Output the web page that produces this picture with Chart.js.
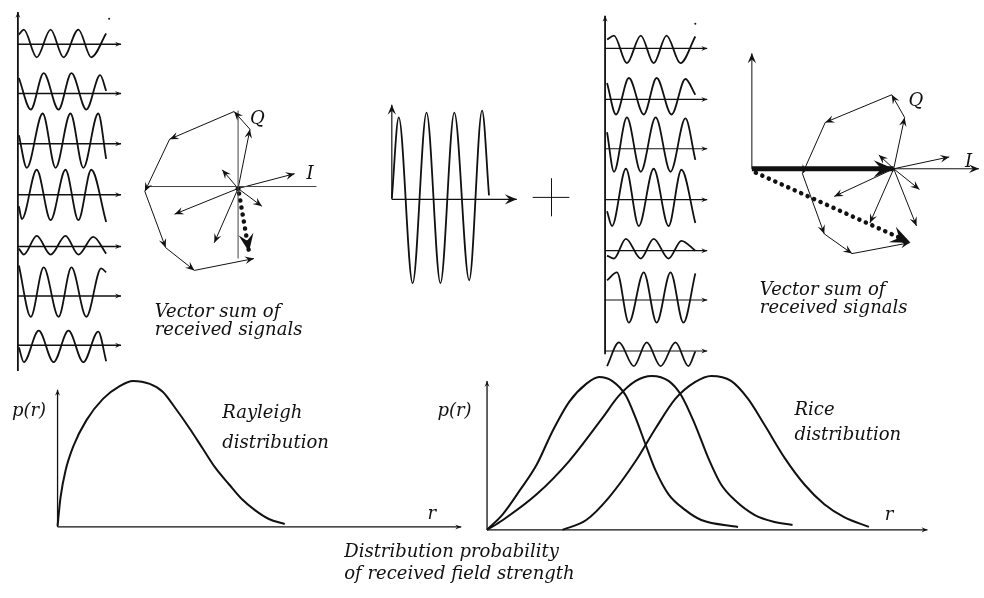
<!DOCTYPE html>
<html>
<head>
<meta charset="utf-8">
<script src="https://cdn.jsdelivr.net/npm/chart.js@4.4.0/dist/chart.umd.min.js"></script>
<style>
  html, body { margin: 0; padding: 0; background: #fff; }
  canvas { display: block; }
</style>
</head>
<body>
<canvas id="diagram" width="984" height="598"></canvas>
<script>
// all values, in picture pixels (x right, y down)

// left stack of received signals: start, peaks/troughs, end of each wave
const leftAxisY = [40.7, 90.7, 141.7, 193.3, 245.7, 296, 346];
const leftWaveX = [
  [15, 20, 33, 47, 60, 75, 88, 103],
  [15, 27, 40, 55, 68, 83, 97, 103],
  [15, 23, 39, 52, 67, 80, 95, 103],
  [15, 18, 33, 47, 62, 75, 88, 103],
  [15, 20, 33, 47, 62, 75, 90, 103],
  [15, 27, 40, 55, 68, 83, 98, 103],
  [15, 20, 35, 50, 65, 80, 95, 103]
];
const leftWaveY = [
  [31, 26, 54, 26, 54, 26, 54, 30],
  [75, 107, 70, 107, 70, 107, 72, 88],
  [133, 166, 111, 166, 111, 166, 111, 157],
  [205, 218, 168, 219, 168, 219, 168, 221],
  [248, 254, 235, 254, 235, 254, 236, 253],
  [265, 317, 267, 317, 267, 317, 268, 272],
  [348, 363, 331, 363, 331, 363, 332, 362]
];

// right stack
const rightAxisY = [45, 96.7, 146.7, 198.3, 250, 300, 351.7];
const rightWaveX = [
  [608, 615, 628, 642, 655, 668, 682, 697],
  [608, 617, 630, 645, 658, 673, 687, 697],
  [608, 615, 628, 642, 657, 672, 687, 697],
  [608, 613, 627, 640, 655, 670, 683, 697],
  [608, 615, 627, 642, 655, 670, 683, 697],
  [608, 618, 630, 645, 658, 672, 685, 697],
  [608, 620, 635, 648, 662, 677, 690, 697]
];
const rightWaveY = [
  [36, 32, 60, 32, 60, 32, 60, 33],
  [80, 112, 75, 112, 75, 112, 76, 92],
  [130, 170, 115, 170, 115, 170, 116, 158],
  [210, 225, 167, 225, 167, 225, 168, 222],
  [255, 258, 238, 258, 238, 258, 240, 250],
  [280, 272, 323, 272, 323, 272, 323, 273],
  [367, 343, 367, 343, 367, 343, 367, 352]
];

// dominant (line of sight) signal in the middle
const losWaveX = [391, 398, 412, 426, 440, 454, 469, 482, 489];
const losWaveY = [197, 115, 283, 110, 283, 110, 280, 108, 194];

// phasor diagrams
const leftOrigin = [236, 187];
const leftChain = [[236, 187], [248, 127], [232, 109], [167, 137], [142, 190], [163, 247], [192, 270], [252, 258]];
const leftSpokes = [[293, 172], [220, 168], [172, 213], [212, 242], [260, 205]];
const leftResultant = [[237, 192], [247, 251]];

const rightOrigin = [754, 167];
const rightTip = [897, 167];
const rightChain = [[897, 167], [908, 115], [895, 92], [828, 120], [805, 172], [827, 233], [855, 253], [913, 242]];
const rightSpokes = [[953, 155], [882, 153], [837, 195], [873, 222], [920, 225], [923, 188]];
const rightResultant = [[758, 171], [914, 242]];

// distributions
const rayleighX = [54, 57, 62, 70, 83, 100, 117, 130, 147, 160, 173, 187, 200, 213, 227, 240, 253, 267, 283];
const rayleighY = [529, 500, 473, 448, 422, 400, 387, 382, 385, 393, 410, 430, 450, 470, 487, 502, 513, 522, 527];

const riceX = [
  [487, 503, 520, 537, 553, 570, 587, 600, 613, 627, 637, 647, 657, 670, 687, 703, 740],
  [487, 503, 537, 570, 603, 620, 637, 653, 670, 683, 697, 710, 723, 737, 757, 777, 795],
  [563, 587, 610, 637, 657, 677, 697, 713, 733, 750, 767, 787, 807, 827, 847, 872]
];
const riceY = [
  [533, 517, 493, 467, 433, 403, 385, 378, 382, 397, 420, 447, 473, 497, 513, 523, 530],
  [533, 523, 497, 463, 420, 397, 382, 377, 382, 397, 427, 460, 487, 503, 518, 525, 528],
  [533, 523, 500, 463, 430, 400, 383, 377, 382, 400, 427, 460, 487, 507, 520, 530]
];

// texts
const labels = [
  ['Q', 248, 122], ['I', 305, 177],
  ['Q', 912, 103], ['I', 969, 165],
  ['Vector sum of', 152, 317], ['received signals', 152, 335],
  ['Vector sum of', 762, 295], ['received signals', 762, 313],
  ['p(r)', 8, 418], ['p(r)', 437, 418],
  ['Rayleigh', 220, 420], ['distribution', 220, 450],
  ['Rice', 797, 417], ['distribution', 797, 442],
  ['r', 427, 522], ['r', 888, 523],
  ['Distribution probability', 343, 561], ['of received field strength', 343, 583]
];

const INK = '#111';
const datasets = [];
const heads = [];

function pts(xs, ys) { return xs.map((x, i) => ({ x: x, y: ys[i] })); }

function line(data, width, extra) {
  datasets.push(Object.assign({
    data: data, showLine: true, borderColor: INK, borderWidth: width,
    pointRadius: 0, fill: false, tension: 0
  }, extra || {}));
}

function arrow(a, b, width, size, extra) {
  line([{ x: a[0], y: a[1] }, { x: b[0], y: b[1] }], width, extra);
  heads.push({ a: a, b: b, size: size });
}

const wave = { cubicInterpolationMode: 'monotone' };

// stacks
leftAxisY.forEach(y => arrow([14, y], [118, y], 1.5, 6));
rightAxisY.forEach(y => arrow([606, y], [709, y], 1.2, 6));
arrow([14, 372], [14, 8], 1.8, 6);
arrow([606, 355], [606, 12], 1.8, 6);
leftWaveX.forEach((xs, i) => line(pts(xs, leftWaveY[i]), 1.8, wave));
rightWaveX.forEach((xs, i) => line(pts(xs, rightWaveY[i]), 1.8, wave));

// middle wave + plus sign
arrow([391, 198], [391, 102], 1.2, 10);
arrow([391, 198], [517, 198], 1.2, 12);
line(pts(losWaveX, losWaveY), 1.8, wave);
line([{ x: 533, y: 196 }, { x: 570, y: 196 }], 1);
line([{ x: 552, y: 177 }, { x: 552, y: 215 }], 1);

// left phasor diagram
line([{ x: 143, y: 185 }, { x: 315, y: 185 }], 1, { borderColor: '#444' });
line([{ x: 236, y: 258 }, { x: 236, y: 108 }], 1, { borderColor: '#444' });
for (let i = 1; i < leftChain.length; i++) arrow(leftChain[i - 1], leftChain[i], 1, 9);
leftSpokes.forEach(p => arrow(leftOrigin, p, 1, 9));
arrow(leftResultant[0], leftResultant[1], 4.5, 18, { borderDash: [0.1, 7], borderCapStyle: 'round' });

// right phasor diagram
arrow([754, 167], [754, 50], 1, 10);
arrow([754, 167], [983, 167], 1, 10);
for (let i = 1; i < rightChain.length; i++) arrow(rightChain[i - 1], rightChain[i], 1, 9);
rightSpokes.forEach(p => arrow(rightTip, p, 1, 9));
arrow(rightOrigin, rightTip, 5, 20);
arrow(rightResultant[0], rightResultant[1], 4.5, 20, { borderDash: [0.1, 7], borderCapStyle: 'round' });

// distributions
arrow([54, 530], [54, 391], 1.3, 6);
arrow([54, 530], [461, 530], 1.3, 6);
line(pts(rayleighX, rayleighY), 2, wave);
arrow([487, 533], [487, 382], 1.3, 6);
arrow([487, 533], [931, 533], 1.3, 6);
riceX.forEach((xs, i) => line(pts(xs, riceY[i]), 2, wave));

// origin dot and stray specks
datasets.push({
  data: [{ x: 236, y: 187 }, { x: 106, y: 15 }, { x: 697, y: 20 }],
  showLine: false, pointRadius: [2.5, 1, 1], backgroundColor: INK, borderWidth: 0
});

const decor = {
  id: 'decor',
  afterDatasetsDraw(chart) {
    const ctx = chart.ctx, sx = chart.scales.x, sy = chart.scales.y;
    ctx.save();
    ctx.fillStyle = INK;
    heads.forEach(h => {
      const x1 = sx.getPixelForValue(h.a[0]), y1 = sy.getPixelForValue(h.a[1]);
      const x2 = sx.getPixelForValue(h.b[0]), y2 = sy.getPixelForValue(h.b[1]);
      const ang = Math.atan2(y2 - y1, x2 - x1), L = h.size, w = h.size * 0.42;
      ctx.save();
      ctx.translate(x2, y2);
      ctx.rotate(ang);
      ctx.beginPath();
      ctx.moveTo(0, 0);
      ctx.lineTo(-L, -w);
      ctx.lineTo(-L * 0.62, 0);
      ctx.lineTo(-L, w);
      ctx.closePath();
      ctx.fill();
      ctx.restore();
    });
    ctx.font = 'italic 18px "DejaVu Serif"';
    ctx.textBaseline = 'alphabetic';
    ctx.textAlign = 'left';
    labels.forEach(l => ctx.fillText(l[0], sx.getPixelForValue(l[1]), sy.getPixelForValue(l[2])));
    ctx.restore();
  }
};

new Chart(document.getElementById('diagram'), {
  type: 'scatter',
  data: { datasets: datasets },
  options: {
    responsive: false,
    animation: false,
    devicePixelRatio: 1,
    layout: { padding: 0 },
    clip: false,
    plugins: { legend: { display: false }, tooltip: { enabled: false } },
    scales: {
      x: { type: 'linear', min: 0, max: 984, display: false },
      y: { type: 'linear', min: 0, max: 598, reverse: true, display: false }
    },
    elements: { line: { borderCapStyle: 'butt' } }
  },
  plugins: [decor]
});
</script>
</body>
</html>
